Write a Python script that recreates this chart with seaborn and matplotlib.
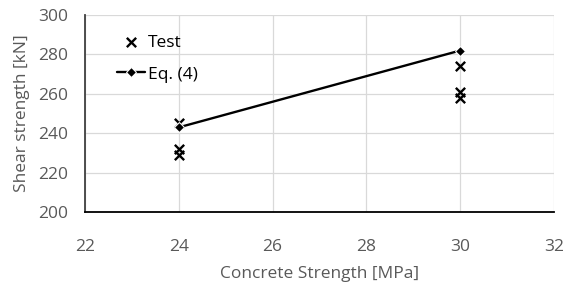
import matplotlib
matplotlib.use("Agg")
import matplotlib.pyplot as plt
import seaborn as sns
import pandas as pd

# --- data ---
test_x = [24, 24, 24, 30, 30, 30]
test_y = [245, 232, 229, 274, 261, 258]
eq_x = [24, 30]
eq_y = [243, 282]

x_ticks = [22, 24, 26, 28, 30, 32]
y_ticks = [200, 220, 240, 260, 280, 300]

test_df = pd.DataFrame({"fc": test_x, "V": test_y})
eq_df = pd.DataFrame({"fc": eq_x, "V": eq_y})

sns.set_theme(style="white")
plt.rcParams['font.family'] = ['Open Sans', 'DejaVu Sans']

fig, ax = plt.subplots(figsize=(5.66, 2.89), dpi=100)
fig.subplots_adjust(left=0.150, right=0.979, bottom=0.266, top=0.948)

sns.scatterplot(data=test_df, x="fc", y="V", marker="x", color="black",
                s=45, linewidth=1.7, ax=ax, label="Test", zorder=3)
sns.lineplot(data=eq_df, x="fc", y="V", color="black", marker="D",
             markersize=5.5, linewidth=1.7, ax=ax, label="Eq. (4)", zorder=4)

ax.set_xlim(22, 32)
ax.set_ylim(200, 300)
ax.set_xticks(x_ticks)
ax.set_yticks(y_ticks)
ax.grid(True, color="#d9d9d9", linewidth=0.9)
ax.set_axisbelow(True)

for side in ["top", "right"]:
    ax.spines[side].set_visible(False)
ax.spines["left"].set_color("#404040")
ax.spines["bottom"].set_color("#000000")
ax.spines["left"].set_linewidth(1.3)
ax.spines["bottom"].set_linewidth(1.3)

ax.tick_params(axis="both", labelsize=12.5, colors="#595959", length=0)
ax.tick_params(axis="x", pad=19)
ax.tick_params(axis="y", pad=12)
ax.set_xlabel("Concrete Strength [MPa]", fontsize=12.5, color="#595959", labelpad=8)
ax.set_ylabel("Shear strength [kN]", fontsize=12.5, color="#595959", labelpad=6)

leg = ax.legend(loc="upper left", bbox_to_anchor=(0.035, 0.98), frameon=False,
                fontsize=12.5, handlelength=1.6, labelspacing=0.9, handletextpad=0.2)
for t in leg.get_texts():
    t.set_color("black")

fig.savefig("out.png", dpi=100)
